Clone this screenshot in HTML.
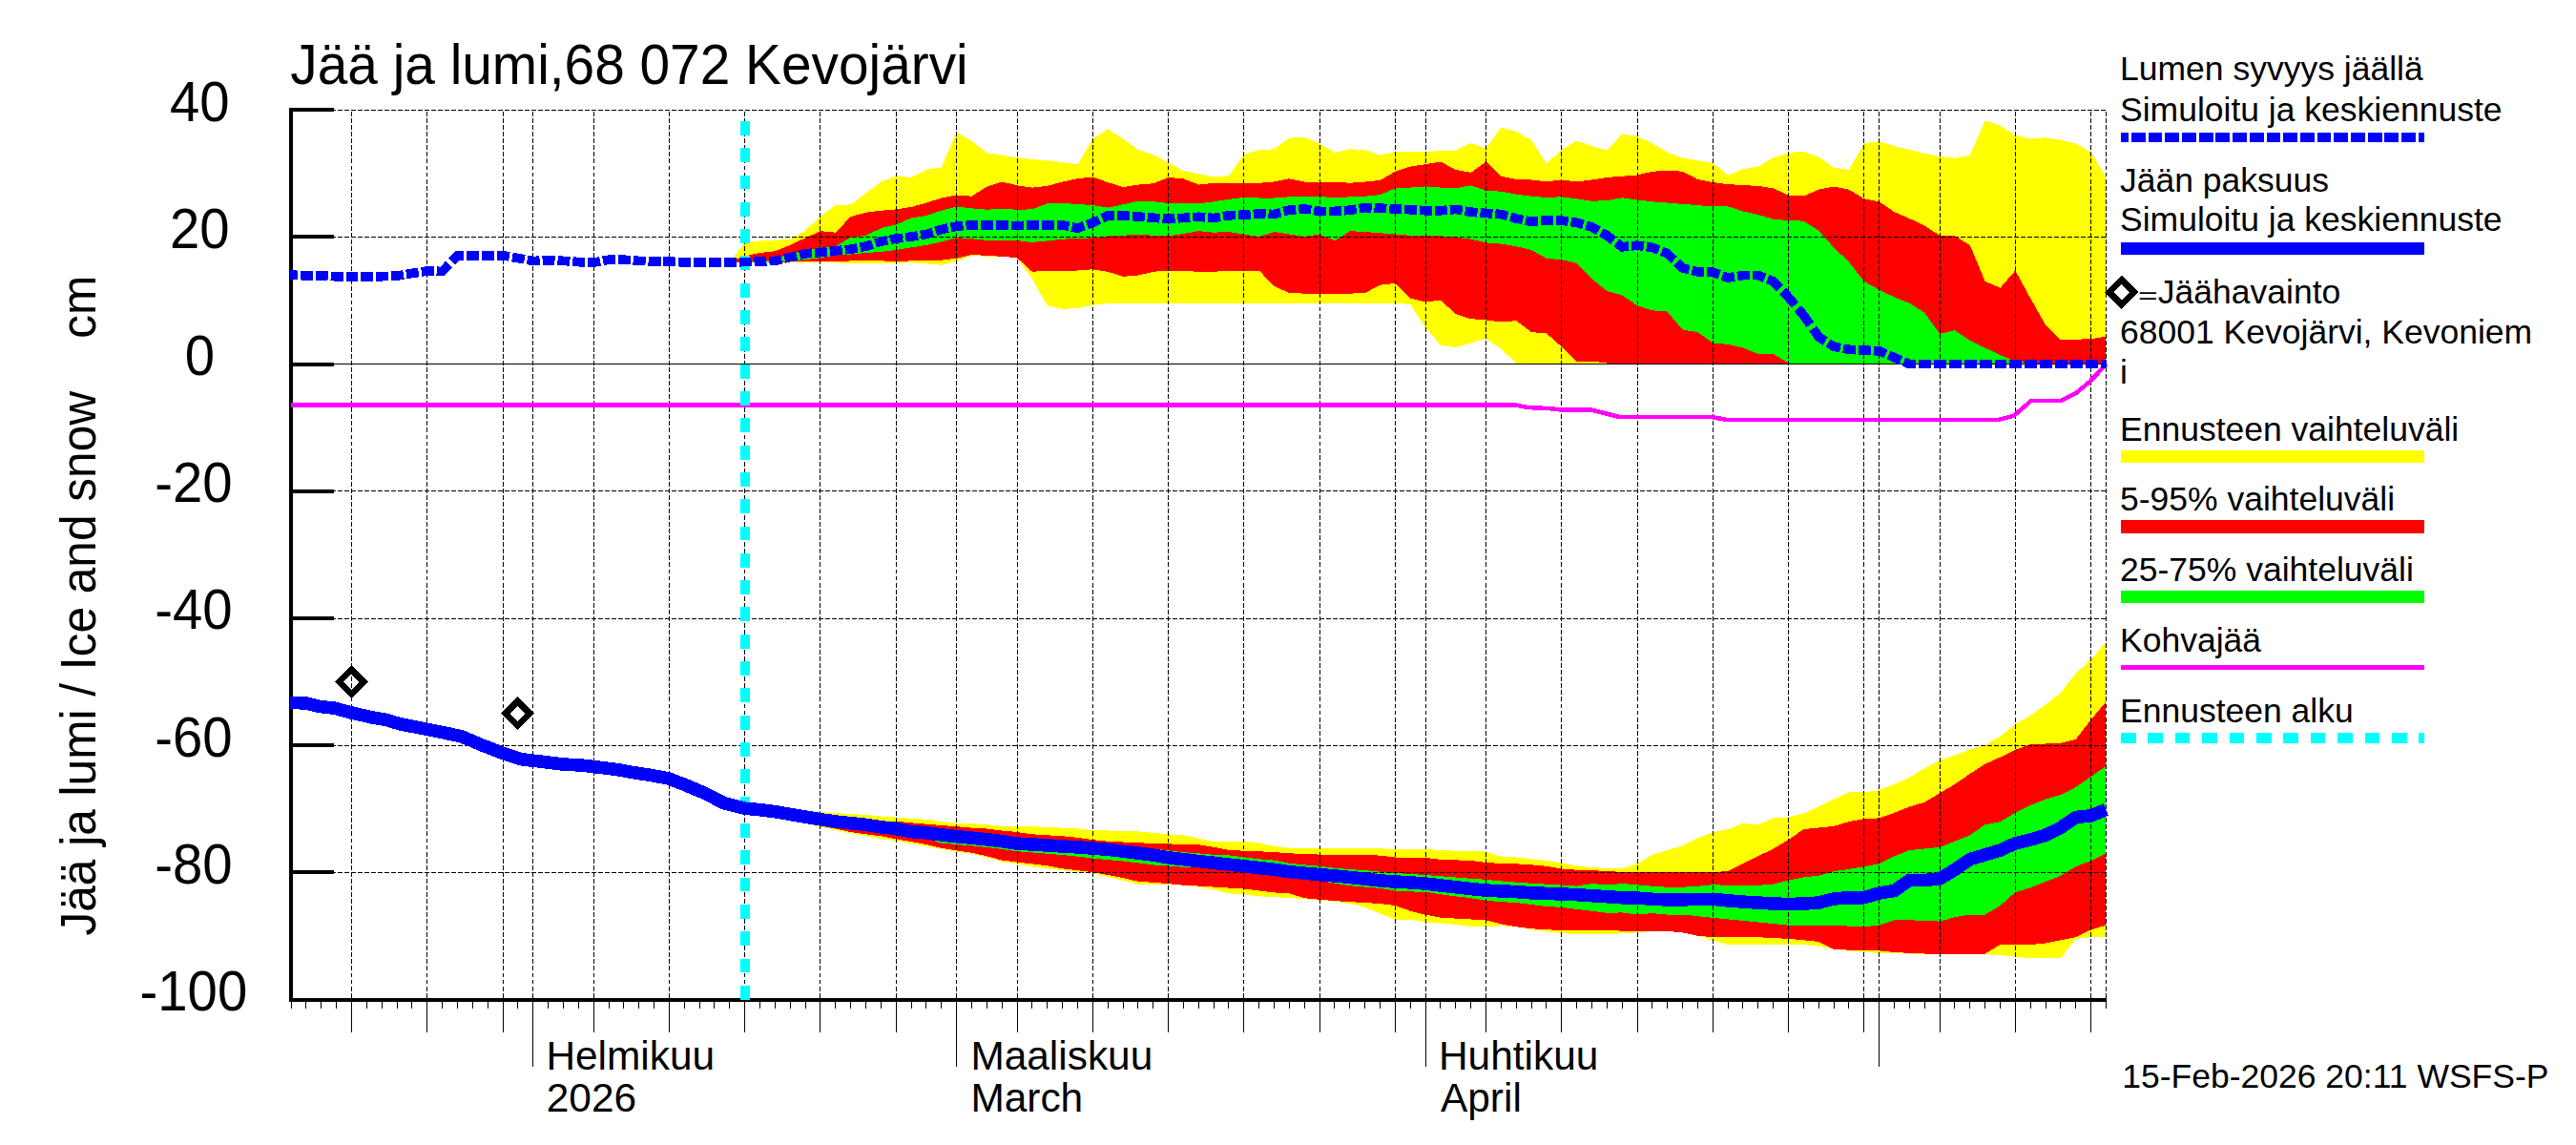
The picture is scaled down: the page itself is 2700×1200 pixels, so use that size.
<!DOCTYPE html>
<html><head><meta charset="utf-8"><title>Jää ja lumi, 68 072 Kevojärvi</title>
<style>html,body{margin:0;padding:0;background:#fff;}svg{display:block;}</style></head>
<body><svg width="2700" height="1200" viewBox="0 0 2700 1200">
<rect width="2700" height="1200" fill="#fff"/>
<polygon shape-rendering="crispEdges" fill="#ffff00" points="764.8,274.5 780.7,254.4 796.5,252.4 812.4,251.8 828.2,250.8 844.1,241.7 859.9,226.5 875.8,215.1 891.7,214.4 907.5,202.5 923.4,190.5 939.2,184.7 955.1,186.0 970.9,177.9 986.8,175.3 1002.6,138.4 1018.5,148.0 1034.3,160.2 1050.2,162.7 1066.0,165.2 1081.9,167.0 1097.7,168.3 1113.6,170.0 1129.4,172.6 1145.3,145.5 1161.2,135.3 1177.0,145.5 1192.9,156.9 1208.7,161.9 1224.6,170.8 1240.4,179.0 1256.3,182.2 1272.1,185.5 1288.0,184.2 1303.8,161.9 1319.7,156.9 1335.5,156.4 1351.4,144.7 1367.2,143.7 1383.1,150.5 1398.9,159.9 1414.8,156.4 1430.7,156.9 1446.5,162.7 1462.4,158.9 1478.2,158.9 1494.1,158.9 1509.9,158.1 1525.8,157.6 1541.6,150.0 1557.5,155.6 1573.3,133.6 1589.2,137.9 1605.0,146.7 1620.9,171.6 1636.7,156.9 1652.6,147.5 1668.4,153.1 1684.3,157.6 1700.2,140.4 1716.0,142.9 1731.9,150.5 1747.7,159.4 1763.6,165.7 1779.4,168.3 1795.3,170.8 1811.1,183.5 1827.0,177.1 1842.8,174.6 1858.7,165.2 1874.5,160.2 1890.4,158.6 1906.2,164.5 1922.1,175.9 1937.9,177.9 1953.8,150.5 1969.7,148.0 1985.5,153.1 2001.4,156.9 2017.2,160.7 2033.1,164.0 2048.9,165.7 2064.8,162.7 2080.6,126.5 2096.5,131.5 2112.3,141.7 2128.2,145.5 2144.0,144.2 2159.9,146.7 2175.7,150.5 2191.6,159.4 2207.4,186.0 2207.4,381.5 2191.6,381.5 2175.7,381.5 2159.9,381.5 2144.0,381.5 2128.2,381.5 2112.3,381.5 2096.5,381.5 2080.6,381.5 2064.8,381.5 2048.9,381.5 2033.1,381.5 2017.2,381.5 2001.4,381.5 1985.5,381.5 1969.7,381.5 1953.8,381.5 1937.9,381.5 1922.1,381.5 1906.2,381.5 1890.4,381.5 1874.5,381.5 1858.7,381.5 1842.8,381.5 1827.0,381.5 1811.1,381.5 1795.3,381.5 1779.4,381.5 1763.6,381.5 1747.7,381.5 1731.9,381.5 1716.0,381.5 1700.2,381.5 1684.3,381.5 1668.4,381.5 1652.6,381.5 1636.7,381.5 1620.9,381.5 1605.0,381.5 1589.2,380.5 1573.3,365.8 1557.5,354.9 1541.6,359.5 1525.8,364.1 1509.9,362.0 1494.1,343.0 1478.2,319.0 1462.4,317.7 1446.5,317.7 1430.7,317.7 1414.8,317.7 1398.9,317.7 1383.1,317.7 1367.2,317.7 1351.4,317.7 1335.5,317.7 1319.7,317.7 1303.8,317.7 1288.0,317.7 1272.1,317.7 1256.3,317.7 1240.4,317.7 1224.6,317.7 1208.7,317.7 1192.9,318.2 1177.0,318.2 1161.2,318.2 1145.3,319.7 1129.4,322.8 1113.6,324.0 1097.7,320.2 1081.9,292.4 1066.0,270.3 1050.2,268.8 1034.3,268.8 1018.5,267.8 1002.6,273.9 986.8,277.7 970.9,276.4 955.1,275.1 939.2,275.9 923.4,275.9 907.5,276.4 891.7,275.9 875.8,275.4 859.9,275.1 844.1,275.1 828.2,275.1 812.4,275.4 796.5,275.4 780.7,275.4"/>
<polygon shape-rendering="crispEdges" fill="#ff0000" points="764.8,274.5 780.7,268.3 796.5,265.0 812.4,263.2 828.2,256.9 844.1,249.3 859.9,242.2 875.8,243.7 891.7,227.0 907.5,222.7 923.4,220.7 939.2,219.4 955.1,216.9 970.9,212.6 986.8,207.5 1002.6,204.5 1018.5,205.7 1034.3,195.6 1050.2,190.5 1066.0,194.3 1081.9,196.6 1097.7,194.9 1113.6,190.5 1129.4,187.3 1145.3,185.5 1161.2,191.1 1177.0,196.1 1192.9,193.6 1208.7,192.3 1224.6,186.0 1240.4,187.3 1256.3,193.6 1272.1,191.8 1288.0,191.8 1303.8,191.8 1319.7,191.8 1335.5,190.5 1351.4,187.3 1367.2,190.5 1383.1,191.6 1398.9,190.5 1414.8,191.8 1430.7,190.5 1446.5,189.0 1462.4,179.7 1478.2,174.6 1494.1,172.1 1509.9,169.5 1525.8,177.9 1541.6,180.9 1557.5,169.5 1573.3,184.7 1589.2,188.0 1605.0,188.5 1620.9,190.3 1636.7,188.5 1652.6,190.5 1668.4,188.5 1684.3,186.0 1700.2,184.7 1716.0,183.5 1731.9,179.7 1747.7,178.9 1763.6,179.7 1779.4,188.0 1795.3,191.1 1811.1,193.1 1827.0,194.1 1842.8,194.9 1858.7,197.4 1874.5,204.5 1890.4,205.5 1906.2,198.7 1922.1,195.6 1937.9,198.7 1953.8,208.3 1969.7,211.3 1985.5,222.2 2001.4,229.0 2017.2,236.6 2033.1,246.8 2048.9,247.3 2064.8,256.9 2080.6,294.9 2096.5,301.7 2112.3,283.5 2128.2,312.6 2144.0,340.5 2159.9,356.2 2175.7,355.7 2191.6,355.2 2207.4,352.7 2207.4,381.5 2191.6,381.5 2175.7,381.5 2159.9,381.5 2144.0,381.5 2128.2,381.5 2112.3,381.5 2096.5,381.5 2080.6,381.5 2064.8,381.5 2048.9,381.5 2033.1,381.5 2017.2,381.5 2001.4,381.5 1985.5,381.5 1969.7,381.5 1953.8,381.5 1937.9,381.5 1922.1,381.5 1906.2,381.5 1890.4,381.5 1874.5,381.5 1858.7,381.5 1842.8,381.5 1827.0,381.5 1811.1,381.5 1795.3,381.5 1779.4,381.5 1763.6,381.5 1747.7,381.5 1731.9,381.5 1716.0,380.5 1700.2,380.5 1684.3,380.5 1668.4,378.5 1652.6,379.0 1636.7,363.3 1620.9,349.4 1605.0,348.1 1589.2,336.2 1573.3,337.5 1557.5,335.4 1541.6,334.2 1525.8,329.1 1509.9,314.7 1494.1,316.4 1478.2,312.6 1462.4,296.9 1446.5,298.7 1430.7,307.1 1414.8,307.6 1398.9,307.6 1383.1,307.6 1367.2,307.6 1351.4,307.1 1335.5,300.0 1319.7,283.5 1303.8,283.5 1288.0,283.5 1272.1,284.8 1256.3,284.8 1240.4,283.9 1224.6,283.5 1208.7,284.8 1192.9,288.6 1177.0,289.8 1161.2,284.8 1145.3,282.2 1129.4,283.5 1113.6,283.5 1097.7,283.5 1081.9,284.8 1066.0,270.3 1050.2,268.8 1034.3,267.8 1018.5,267.0 1002.6,270.8 986.8,272.6 970.9,273.4 955.1,273.4 939.2,273.9 923.4,273.4 907.5,273.4 891.7,273.4 875.8,274.4 859.9,274.4 844.1,274.4 828.2,274.4 812.4,275.1 796.5,275.1 780.7,275.1"/>
<polygon shape-rendering="crispEdges" fill="#00ff00" points="764.8,274.5 780.7,274.6 796.5,273.4 812.4,272.1 828.2,265.8 844.1,263.2 859.9,259.4 875.8,258.2 891.7,248.8 907.5,246.8 923.4,239.2 939.2,235.4 955.1,228.5 970.9,226.0 986.8,220.7 1002.6,216.6 1018.5,218.4 1034.3,219.7 1050.2,218.9 1066.0,219.7 1081.9,219.4 1097.7,213.3 1113.6,213.1 1129.4,213.9 1145.3,215.1 1161.2,217.6 1177.0,214.4 1192.9,210.6 1208.7,211.3 1224.6,213.0 1240.4,213.3 1256.3,213.3 1272.1,211.3 1288.0,208.8 1303.8,207.0 1319.7,207.5 1335.5,207.5 1351.4,206.3 1367.2,205.7 1383.1,205.7 1398.9,207.5 1414.8,206.3 1430.7,205.7 1446.5,204.2 1462.4,197.4 1478.2,196.6 1494.1,195.4 1509.9,196.6 1525.8,197.4 1541.6,194.3 1557.5,199.9 1573.3,200.7 1589.2,203.7 1605.0,205.7 1620.9,207.0 1636.7,206.3 1652.6,208.3 1668.4,210.8 1684.3,210.1 1700.2,207.3 1716.0,209.4 1731.9,211.3 1747.7,212.6 1763.6,213.9 1779.4,215.1 1795.3,216.4 1811.1,216.4 1827.0,221.4 1842.8,225.2 1858.7,229.6 1874.5,231.1 1890.4,231.6 1906.2,241.7 1922.1,259.4 1937.9,274.6 1953.8,294.9 1969.7,303.8 1985.5,311.4 2001.4,317.7 2017.2,327.8 2033.1,350.1 2048.9,346.1 2064.8,357.0 2080.6,364.6 2096.5,372.2 2112.3,378.5 2128.2,380.5 2144.0,381.0 2159.9,381.5 2175.7,381.5 2191.6,381.5 2207.4,381.5 2207.4,381.5 2191.6,381.5 2175.7,381.5 2159.9,381.5 2144.0,381.5 2128.2,381.5 2112.3,381.5 2096.5,381.5 2080.6,381.5 2064.8,381.5 2048.9,381.5 2033.1,381.5 2017.2,381.5 2001.4,381.5 1985.5,381.5 1969.7,381.5 1953.8,381.5 1937.9,381.5 1922.1,381.5 1906.2,381.5 1890.4,381.5 1874.5,380.5 1858.7,370.9 1842.8,370.9 1827.0,364.6 1811.1,360.8 1795.3,359.5 1779.4,348.1 1763.6,345.6 1747.7,326.6 1731.9,325.3 1716.0,320.2 1700.2,309.5 1684.3,305.0 1668.4,292.4 1652.6,275.9 1636.7,272.1 1620.9,270.8 1605.0,262.0 1589.2,258.2 1573.3,255.6 1557.5,254.4 1541.6,250.6 1525.8,248.8 1509.9,247.3 1494.1,246.8 1478.2,246.8 1462.4,245.5 1446.5,244.2 1430.7,243.0 1414.8,242.2 1398.9,252.4 1383.1,245.5 1367.2,248.0 1351.4,245.5 1335.5,243.0 1319.7,248.0 1303.8,245.5 1288.0,243.0 1272.1,243.7 1256.3,242.2 1240.4,244.9 1224.6,247.4 1208.7,246.8 1192.9,245.5 1177.0,246.8 1161.2,247.5 1145.3,249.3 1129.4,250.1 1113.6,250.6 1097.7,252.4 1081.9,253.9 1066.0,252.1 1050.2,251.8 1034.3,251.8 1018.5,250.3 1002.6,249.1 986.8,253.4 970.9,256.9 955.1,259.4 939.2,262.0 923.4,264.0 907.5,265.0 891.7,266.5 875.8,267.5 859.9,270.1 844.1,272.1 828.2,273.4 812.4,274.6 796.5,275.1 780.7,275.9"/>
<polygon shape-rendering="crispEdges" fill="#ffff00" points="764.8,845.2 780.7,841.0 796.5,842.3 812.4,844.3 828.2,847.2 844.1,849.1 859.9,851.1 875.8,852.0 891.7,853.0 907.5,854.0 923.4,855.5 939.2,856.5 955.1,857.8 970.9,858.8 986.8,861.1 1002.6,862.7 1018.5,863.1 1034.3,864.3 1050.2,866.0 1066.0,866.2 1081.9,866.2 1097.7,867.0 1113.6,867.6 1129.4,868.5 1145.3,870.1 1161.2,870.5 1177.0,870.9 1192.9,871.4 1208.7,872.8 1224.6,874.3 1240.4,875.3 1256.3,878.7 1272.1,882.0 1288.0,882.0 1303.8,882.0 1319.7,883.4 1335.5,886.9 1351.4,888.8 1367.2,889.2 1383.1,889.2 1398.9,889.2 1414.8,889.2 1430.7,889.2 1446.5,889.2 1462.4,890.2 1478.2,890.2 1494.1,890.2 1509.9,890.8 1525.8,891.7 1541.6,891.7 1557.5,892.7 1573.3,897.6 1589.2,898.5 1605.0,900.1 1620.9,902.0 1636.7,904.3 1652.6,907.3 1668.4,909.2 1684.3,909.8 1700.2,910.0 1716.0,905.3 1731.9,895.8 1747.7,891.1 1763.6,886.3 1779.4,878.5 1795.3,872.2 1811.1,869.1 1827.0,862.8 1842.8,864.3 1858.7,857.4 1874.5,856.5 1890.4,852.4 1906.2,845.5 1922.1,837.6 1937.9,830.4 1953.8,830.4 1969.7,828.2 1985.5,821.9 2001.4,814.7 2017.2,805.2 2033.1,796.7 2048.9,791.4 2064.8,785.7 2080.6,781.0 2096.5,771.6 2112.3,759.0 2128.2,749.6 2144.0,738.6 2159.9,726.0 2175.7,705.6 2191.6,691.4 2207.4,672.6 2207.4,982.2 2191.6,982.2 2175.7,983.8 2159.9,1004.2 2144.0,1004.2 2128.2,1004.2 2112.3,1002.7 2096.5,1001.1 2080.6,1000.1 2064.8,1000.1 2048.9,1000.1 2033.1,1000.1 2017.2,1000.1 2001.4,999.5 1985.5,998.9 1969.7,998.9 1953.8,997.9 1937.9,996.4 1922.1,994.8 1906.2,991.7 1890.4,990.1 1874.5,990.1 1858.7,990.1 1842.8,990.1 1827.0,990.1 1811.1,990.1 1795.3,985.4 1779.4,980.7 1763.6,977.5 1747.7,975.9 1731.9,975.9 1716.0,977.3 1700.2,978.3 1684.3,979.1 1668.4,979.1 1652.6,979.1 1636.7,978.1 1620.9,976.2 1605.0,974.2 1589.2,971.3 1573.3,970.3 1557.5,971.3 1541.6,971.3 1525.8,968.8 1509.9,967.4 1494.1,966.5 1478.2,963.5 1462.4,963.5 1446.5,957.7 1430.7,950.9 1414.8,947.0 1398.9,944.7 1383.1,943.6 1367.2,942.2 1351.4,940.8 1335.5,940.3 1319.7,939.3 1303.8,937.3 1288.0,936.4 1272.1,932.5 1256.3,929.6 1240.4,927.7 1224.6,926.9 1208.7,927.1 1192.9,926.8 1177.0,922.9 1161.2,919.0 1145.3,915.5 1129.4,913.6 1113.6,912.2 1097.7,910.3 1081.9,908.3 1066.0,905.4 1050.2,903.1 1034.3,898.6 1018.5,894.7 1002.6,892.8 986.8,889.9 970.9,887.0 955.1,884.1 939.2,881.1 923.4,879.2 907.5,876.3 891.7,873.4 875.8,870.1 859.9,866.6 844.1,862.7 828.2,859.8 812.4,856.9 796.5,854.9 780.7,853.4"/>
<polygon shape-rendering="crispEdges" fill="#ff0000" points="764.8,845.2 780.7,841.0 796.5,842.3 812.4,844.3 828.2,847.2 844.1,849.5 859.9,852.0 875.8,854.0 891.7,856.9 907.5,858.8 923.4,860.8 939.2,860.8 955.1,862.3 970.9,863.7 986.8,865.0 1002.6,866.2 1018.5,867.6 1034.3,868.5 1050.2,870.5 1066.0,872.0 1081.9,874.3 1097.7,875.3 1113.6,876.3 1129.4,877.8 1145.3,880.2 1161.2,881.7 1177.0,882.5 1192.9,883.1 1208.7,884.1 1224.6,884.2 1240.4,885.5 1256.3,885.3 1272.1,887.8 1288.0,890.8 1303.8,891.7 1319.7,892.3 1335.5,893.1 1351.4,894.3 1367.2,895.0 1383.1,895.6 1398.9,895.6 1414.8,896.0 1430.7,896.0 1446.5,896.6 1462.4,898.5 1478.2,898.9 1494.1,898.9 1509.9,900.9 1525.8,901.4 1541.6,902.0 1557.5,904.0 1573.3,904.9 1589.2,905.3 1605.0,906.3 1620.9,907.8 1636.7,910.6 1652.6,911.7 1668.4,912.1 1684.3,913.1 1700.2,913.8 1716.0,913.5 1731.9,914.0 1747.7,914.0 1763.6,914.0 1779.4,914.0 1795.3,914.0 1811.1,913.1 1827.0,905.2 1842.8,897.3 1858.7,889.5 1874.5,880.1 1890.4,869.1 1906.2,867.5 1922.1,865.9 1937.9,861.2 1953.8,858.1 1969.7,857.4 1985.5,851.8 2001.4,845.5 2017.2,840.8 2033.1,831.3 2048.9,821.9 2064.8,810.9 2080.6,800.8 2096.5,793.6 2112.3,785.7 2128.2,780.1 2144.0,779.5 2159.9,778.8 2175.7,774.7 2191.6,754.3 2207.4,735.4 2207.4,969.7 2191.6,974.4 2175.7,982.2 2159.9,985.4 2144.0,988.5 2128.2,990.1 2112.3,990.1 2096.5,990.1 2080.6,999.5 2064.8,999.5 2048.9,999.5 2033.1,999.5 2017.2,999.5 2001.4,998.9 1985.5,997.9 1969.7,996.4 1953.8,995.7 1937.9,995.7 1922.1,994.8 1906.2,986.9 1890.4,985.4 1874.5,983.8 1858.7,983.2 1842.8,982.2 1827.0,982.2 1811.1,982.2 1795.3,982.2 1779.4,980.7 1763.6,977.5 1747.7,975.9 1731.9,975.9 1716.0,976.1 1700.2,975.6 1684.3,975.2 1668.4,975.2 1652.6,975.2 1636.7,975.2 1620.9,974.2 1605.0,973.3 1589.2,971.3 1573.3,968.4 1557.5,964.5 1541.6,963.5 1525.8,962.6 1509.9,961.6 1494.1,958.7 1478.2,954.8 1462.4,949.0 1446.5,947.0 1430.7,946.1 1414.8,945.1 1398.9,944.1 1383.1,942.8 1367.2,941.2 1351.4,936.4 1335.5,935.4 1319.7,933.5 1303.8,931.5 1288.0,930.6 1272.1,929.6 1256.3,928.6 1240.4,927.7 1224.6,926.2 1208.7,924.8 1192.9,923.8 1177.0,920.0 1161.2,917.0 1145.3,914.1 1129.4,912.2 1113.6,910.3 1097.7,907.3 1081.9,905.4 1066.0,903.5 1050.2,901.5 1034.3,897.3 1018.5,893.8 1002.6,891.4 986.8,888.9 970.9,885.0 955.1,882.1 939.2,879.2 923.4,876.3 907.5,874.3 891.7,872.0 875.8,868.5 859.9,865.6 844.1,862.7 828.2,859.8 812.4,856.9 796.5,854.9 780.7,853.4"/>
<polygon shape-rendering="crispEdges" fill="#00ff00" points="764.8,845.2 780.7,840.6 796.5,842.1 812.4,844.1 828.2,846.8 844.1,849.5 859.9,852.2 875.8,854.5 891.7,856.1 907.5,857.8 923.4,860.2 939.2,861.9 955.1,865.0 970.9,866.2 986.8,868.3 1002.6,870.1 1018.5,871.6 1034.3,873.2 1050.2,875.1 1066.0,877.5 1081.9,878.4 1097.7,879.4 1113.6,880.4 1129.4,881.3 1145.3,882.5 1161.2,883.7 1177.0,885.6 1192.9,887.5 1208.7,889.5 1224.6,891.3 1240.4,893.2 1256.3,894.4 1272.1,895.8 1288.0,896.4 1303.8,898.3 1319.7,900.3 1335.5,901.6 1351.4,904.7 1367.2,906.3 1383.1,907.8 1398.9,909.8 1414.8,911.1 1430.7,912.1 1446.5,913.7 1462.4,915.0 1478.2,916.0 1494.1,917.0 1509.9,918.3 1525.8,919.5 1541.6,920.8 1557.5,921.8 1573.3,923.4 1589.2,924.7 1605.0,925.7 1620.9,926.7 1636.7,927.6 1652.6,928.6 1668.4,926.1 1684.3,927.3 1700.2,926.1 1716.0,927.3 1731.9,928.8 1747.7,929.7 1763.6,929.7 1779.4,928.8 1795.3,927.2 1811.1,927.8 1827.0,927.8 1842.8,927.8 1858.7,926.6 1874.5,922.5 1890.4,919.4 1906.2,917.8 1922.1,913.1 1937.9,910.9 1953.8,908.3 1969.7,905.2 1985.5,897.3 2001.4,891.1 2017.2,889.5 2033.1,887.9 2048.9,881.6 2064.8,875.3 2080.6,864.3 2096.5,861.2 2112.3,851.8 2128.2,843.9 2144.0,837.6 2159.9,832.9 2175.7,825.0 2191.6,814.0 2207.4,803.0 2207.4,894.2 2191.6,902.1 2175.7,908.3 2159.9,917.8 2144.0,924.1 2128.2,930.4 2112.3,935.1 2096.5,949.2 2080.6,958.6 2064.8,958.6 2048.9,961.2 2033.1,965.6 2017.2,964.9 2001.4,964.3 1985.5,964.3 1969.7,969.7 1953.8,971.2 1937.9,970.6 1922.1,969.7 1906.2,969.7 1890.4,969.7 1874.5,969.7 1858.7,968.1 1842.8,966.5 1827.0,964.9 1811.1,963.4 1795.3,961.8 1779.4,960.2 1763.6,958.6 1747.7,958.6 1731.9,957.1 1716.0,958.4 1700.2,956.4 1684.3,956.8 1668.4,954.8 1652.6,952.9 1636.7,950.9 1620.9,950.0 1605.0,948.0 1589.2,946.1 1573.3,945.1 1557.5,943.8 1541.6,941.2 1525.8,939.3 1509.9,937.3 1494.1,934.8 1478.2,934.4 1462.4,933.5 1446.5,930.9 1430.7,929.6 1414.8,928.2 1398.9,925.7 1383.1,922.8 1367.2,920.8 1351.4,919.5 1335.5,917.5 1319.7,916.0 1303.8,914.1 1288.0,912.1 1272.1,911.1 1256.3,909.2 1240.4,908.8 1224.6,907.5 1208.7,906.4 1192.9,904.4 1177.0,902.5 1161.2,901.1 1145.3,899.6 1129.4,897.6 1113.6,896.1 1097.7,894.7 1081.9,893.4 1066.0,892.2 1050.2,889.9 1034.3,887.9 1018.5,886.4 1002.6,885.0 986.8,883.7 970.9,878.6 955.1,877.5 939.2,874.3 923.4,872.6 907.5,870.3 891.7,868.5 875.8,867.0 859.9,864.6 844.1,861.9 828.2,859.2 812.4,856.5 796.5,854.5 780.7,853.0"/>
<g stroke="#000" stroke-width="1" stroke-dasharray="5 2" shape-rendering="crispEdges"><line x1="368.5" y1="115" x2="368.5" y2="1047" stroke-dasharray="4.9 2.15" stroke-dashoffset="4.95"/><line x1="447.5" y1="115" x2="447.5" y2="1047" stroke-dasharray="4.9 2.15" stroke-dashoffset="4.95"/><line x1="527.5" y1="115" x2="527.5" y2="1047" stroke-dasharray="4.9 2.15" stroke-dashoffset="4.95"/><line x1="558.5" y1="115" x2="558.5" y2="1047" stroke-dasharray="4.9 2.15" stroke-dashoffset="4.95"/><line x1="622.5" y1="115" x2="622.5" y2="1047" stroke-dasharray="4.9 2.15" stroke-dashoffset="4.95"/><line x1="701.5" y1="115" x2="701.5" y2="1047" stroke-dasharray="4.9 2.15" stroke-dashoffset="4.95"/><line x1="780.5" y1="115" x2="780.5" y2="1047" stroke-dasharray="4.9 2.15" stroke-dashoffset="4.95"/><line x1="859.5" y1="115" x2="859.5" y2="1047" stroke-dasharray="4.9 2.15" stroke-dashoffset="4.95"/><line x1="939.5" y1="115" x2="939.5" y2="1047" stroke-dasharray="4.9 2.15" stroke-dashoffset="4.95"/><line x1="1002.5" y1="115" x2="1002.5" y2="1047" stroke-dasharray="4.9 2.15" stroke-dashoffset="4.95"/><line x1="1066.5" y1="115" x2="1066.5" y2="1047" stroke-dasharray="4.9 2.15" stroke-dashoffset="4.95"/><line x1="1145.5" y1="115" x2="1145.5" y2="1047" stroke-dasharray="4.9 2.15" stroke-dashoffset="4.95"/><line x1="1224.5" y1="115" x2="1224.5" y2="1047" stroke-dasharray="4.9 2.15" stroke-dashoffset="4.95"/><line x1="1303.5" y1="115" x2="1303.5" y2="1047" stroke-dasharray="4.9 2.15" stroke-dashoffset="4.95"/><line x1="1383.5" y1="115" x2="1383.5" y2="1047" stroke-dasharray="4.9 2.15" stroke-dashoffset="4.95"/><line x1="1462.5" y1="115" x2="1462.5" y2="1047" stroke-dasharray="4.9 2.15" stroke-dashoffset="4.95"/><line x1="1494.5" y1="115" x2="1494.5" y2="1047" stroke-dasharray="4.9 2.15" stroke-dashoffset="4.95"/><line x1="1557.5" y1="115" x2="1557.5" y2="1047" stroke-dasharray="4.9 2.15" stroke-dashoffset="4.95"/><line x1="1636.5" y1="115" x2="1636.5" y2="1047" stroke-dasharray="4.9 2.15" stroke-dashoffset="4.95"/><line x1="1716.5" y1="115" x2="1716.5" y2="1047" stroke-dasharray="4.9 2.15" stroke-dashoffset="4.95"/><line x1="1795.5" y1="115" x2="1795.5" y2="1047" stroke-dasharray="4.9 2.15" stroke-dashoffset="4.95"/><line x1="1874.5" y1="115" x2="1874.5" y2="1047" stroke-dasharray="4.9 2.15" stroke-dashoffset="4.95"/><line x1="1953.5" y1="115" x2="1953.5" y2="1047" stroke-dasharray="4.9 2.15" stroke-dashoffset="4.95"/><line x1="1969.5" y1="115" x2="1969.5" y2="1047" stroke-dasharray="4.9 2.15" stroke-dashoffset="4.95"/><line x1="2033.5" y1="115" x2="2033.5" y2="1047" stroke-dasharray="4.9 2.15" stroke-dashoffset="4.95"/><line x1="2112.5" y1="115" x2="2112.5" y2="1047" stroke-dasharray="4.9 2.15" stroke-dashoffset="4.95"/><line x1="2191.5" y1="115" x2="2191.5" y2="1047" stroke-dasharray="4.9 2.15" stroke-dashoffset="4.95"/><line x1="2207.5" y1="115" x2="2207.5" y2="1047" stroke-dasharray="4.9 2.15" stroke-dashoffset="4.95"/><line x1="305" y1="115.5" x2="2208" y2="115.5" /><line x1="305" y1="248.5" x2="2208" y2="248.5" /><line x1="305" y1="514.5" x2="2208" y2="514.5" /><line x1="305" y1="648.5" x2="2208" y2="648.5" /><line x1="305" y1="781.5" x2="2208" y2="781.5" /><line x1="305" y1="914.5" x2="2208" y2="914.5" /></g>
<line x1="305" y1="381.5" x2="2208" y2="381.5" stroke="#000" stroke-width="1" shape-rendering="crispEdges"/>
<g shape-rendering="crispEdges" stroke="#000"><line x1="305" y1="113" x2="305" y2="1050" stroke-width="4"/><line x1="303" y1="1048" x2="2208" y2="1048" stroke-width="4"/><line x1="303" y1="115" x2="350" y2="115" stroke-width="4"/><line x1="303" y1="248" x2="350" y2="248" stroke-width="4"/><line x1="303" y1="382" x2="350" y2="382" stroke-width="4"/><line x1="303" y1="515" x2="350" y2="515" stroke-width="4"/><line x1="303" y1="648" x2="350" y2="648" stroke-width="4"/><line x1="303" y1="781" x2="350" y2="781" stroke-width="4"/><line x1="303" y1="914" x2="350" y2="914" stroke-width="4"/><line x1="305.5" y1="1048" x2="305.5" y2="1057" stroke-width="1"/><line x1="320.5" y1="1048" x2="320.5" y2="1057" stroke-width="1"/><line x1="336.5" y1="1048" x2="336.5" y2="1057" stroke-width="1"/><line x1="352.5" y1="1048" x2="352.5" y2="1057" stroke-width="1"/><line x1="368.5" y1="1048" x2="368.5" y2="1082" stroke-width="1"/><line x1="384.5" y1="1048" x2="384.5" y2="1057" stroke-width="1"/><line x1="400.5" y1="1048" x2="400.5" y2="1057" stroke-width="1"/><line x1="416.5" y1="1048" x2="416.5" y2="1057" stroke-width="1"/><line x1="431.5" y1="1048" x2="431.5" y2="1057" stroke-width="1"/><line x1="447.5" y1="1048" x2="447.5" y2="1082" stroke-width="1"/><line x1="463.5" y1="1048" x2="463.5" y2="1057" stroke-width="1"/><line x1="479.5" y1="1048" x2="479.5" y2="1057" stroke-width="1"/><line x1="495.5" y1="1048" x2="495.5" y2="1057" stroke-width="1"/><line x1="511.5" y1="1048" x2="511.5" y2="1057" stroke-width="1"/><line x1="527.5" y1="1048" x2="527.5" y2="1082" stroke-width="1"/><line x1="542.5" y1="1048" x2="542.5" y2="1057" stroke-width="1"/><line x1="558.5" y1="1048" x2="558.5" y2="1118" stroke-width="1"/><line x1="574.5" y1="1048" x2="574.5" y2="1057" stroke-width="1"/><line x1="590.5" y1="1048" x2="590.5" y2="1057" stroke-width="1"/><line x1="606.5" y1="1048" x2="606.5" y2="1057" stroke-width="1"/><line x1="622.5" y1="1048" x2="622.5" y2="1082" stroke-width="1"/><line x1="638.5" y1="1048" x2="638.5" y2="1057" stroke-width="1"/><line x1="653.5" y1="1048" x2="653.5" y2="1057" stroke-width="1"/><line x1="669.5" y1="1048" x2="669.5" y2="1057" stroke-width="1"/><line x1="685.5" y1="1048" x2="685.5" y2="1057" stroke-width="1"/><line x1="701.5" y1="1048" x2="701.5" y2="1082" stroke-width="1"/><line x1="717.5" y1="1048" x2="717.5" y2="1057" stroke-width="1"/><line x1="733.5" y1="1048" x2="733.5" y2="1057" stroke-width="1"/><line x1="748.5" y1="1048" x2="748.5" y2="1057" stroke-width="1"/><line x1="764.5" y1="1048" x2="764.5" y2="1057" stroke-width="1"/><line x1="780.5" y1="1048" x2="780.5" y2="1082" stroke-width="1"/><line x1="796.5" y1="1048" x2="796.5" y2="1057" stroke-width="1"/><line x1="812.5" y1="1048" x2="812.5" y2="1057" stroke-width="1"/><line x1="828.5" y1="1048" x2="828.5" y2="1057" stroke-width="1"/><line x1="844.5" y1="1048" x2="844.5" y2="1057" stroke-width="1"/><line x1="859.5" y1="1048" x2="859.5" y2="1082" stroke-width="1"/><line x1="875.5" y1="1048" x2="875.5" y2="1057" stroke-width="1"/><line x1="891.5" y1="1048" x2="891.5" y2="1057" stroke-width="1"/><line x1="907.5" y1="1048" x2="907.5" y2="1057" stroke-width="1"/><line x1="923.5" y1="1048" x2="923.5" y2="1057" stroke-width="1"/><line x1="939.5" y1="1048" x2="939.5" y2="1082" stroke-width="1"/><line x1="955.5" y1="1048" x2="955.5" y2="1057" stroke-width="1"/><line x1="970.5" y1="1048" x2="970.5" y2="1057" stroke-width="1"/><line x1="986.5" y1="1048" x2="986.5" y2="1057" stroke-width="1"/><line x1="1002.5" y1="1048" x2="1002.5" y2="1118" stroke-width="1"/><line x1="1018.5" y1="1048" x2="1018.5" y2="1057" stroke-width="1"/><line x1="1034.5" y1="1048" x2="1034.5" y2="1057" stroke-width="1"/><line x1="1050.5" y1="1048" x2="1050.5" y2="1057" stroke-width="1"/><line x1="1066.5" y1="1048" x2="1066.5" y2="1082" stroke-width="1"/><line x1="1081.5" y1="1048" x2="1081.5" y2="1057" stroke-width="1"/><line x1="1097.5" y1="1048" x2="1097.5" y2="1057" stroke-width="1"/><line x1="1113.5" y1="1048" x2="1113.5" y2="1057" stroke-width="1"/><line x1="1129.5" y1="1048" x2="1129.5" y2="1057" stroke-width="1"/><line x1="1145.5" y1="1048" x2="1145.5" y2="1082" stroke-width="1"/><line x1="1161.5" y1="1048" x2="1161.5" y2="1057" stroke-width="1"/><line x1="1177.5" y1="1048" x2="1177.5" y2="1057" stroke-width="1"/><line x1="1192.5" y1="1048" x2="1192.5" y2="1057" stroke-width="1"/><line x1="1208.5" y1="1048" x2="1208.5" y2="1057" stroke-width="1"/><line x1="1224.5" y1="1048" x2="1224.5" y2="1082" stroke-width="1"/><line x1="1240.5" y1="1048" x2="1240.5" y2="1057" stroke-width="1"/><line x1="1256.5" y1="1048" x2="1256.5" y2="1057" stroke-width="1"/><line x1="1272.5" y1="1048" x2="1272.5" y2="1057" stroke-width="1"/><line x1="1287.5" y1="1048" x2="1287.5" y2="1057" stroke-width="1"/><line x1="1303.5" y1="1048" x2="1303.5" y2="1082" stroke-width="1"/><line x1="1319.5" y1="1048" x2="1319.5" y2="1057" stroke-width="1"/><line x1="1335.5" y1="1048" x2="1335.5" y2="1057" stroke-width="1"/><line x1="1351.5" y1="1048" x2="1351.5" y2="1057" stroke-width="1"/><line x1="1367.5" y1="1048" x2="1367.5" y2="1057" stroke-width="1"/><line x1="1383.5" y1="1048" x2="1383.5" y2="1082" stroke-width="1"/><line x1="1398.5" y1="1048" x2="1398.5" y2="1057" stroke-width="1"/><line x1="1414.5" y1="1048" x2="1414.5" y2="1057" stroke-width="1"/><line x1="1430.5" y1="1048" x2="1430.5" y2="1057" stroke-width="1"/><line x1="1446.5" y1="1048" x2="1446.5" y2="1057" stroke-width="1"/><line x1="1462.5" y1="1048" x2="1462.5" y2="1082" stroke-width="1"/><line x1="1478.5" y1="1048" x2="1478.5" y2="1057" stroke-width="1"/><line x1="1494.5" y1="1048" x2="1494.5" y2="1118" stroke-width="1"/><line x1="1509.5" y1="1048" x2="1509.5" y2="1057" stroke-width="1"/><line x1="1525.5" y1="1048" x2="1525.5" y2="1057" stroke-width="1"/><line x1="1541.5" y1="1048" x2="1541.5" y2="1057" stroke-width="1"/><line x1="1557.5" y1="1048" x2="1557.5" y2="1082" stroke-width="1"/><line x1="1573.5" y1="1048" x2="1573.5" y2="1057" stroke-width="1"/><line x1="1589.5" y1="1048" x2="1589.5" y2="1057" stroke-width="1"/><line x1="1605.5" y1="1048" x2="1605.5" y2="1057" stroke-width="1"/><line x1="1620.5" y1="1048" x2="1620.5" y2="1057" stroke-width="1"/><line x1="1636.5" y1="1048" x2="1636.5" y2="1082" stroke-width="1"/><line x1="1652.5" y1="1048" x2="1652.5" y2="1057" stroke-width="1"/><line x1="1668.5" y1="1048" x2="1668.5" y2="1057" stroke-width="1"/><line x1="1684.5" y1="1048" x2="1684.5" y2="1057" stroke-width="1"/><line x1="1700.5" y1="1048" x2="1700.5" y2="1057" stroke-width="1"/><line x1="1716.5" y1="1048" x2="1716.5" y2="1082" stroke-width="1"/><line x1="1731.5" y1="1048" x2="1731.5" y2="1057" stroke-width="1"/><line x1="1747.5" y1="1048" x2="1747.5" y2="1057" stroke-width="1"/><line x1="1763.5" y1="1048" x2="1763.5" y2="1057" stroke-width="1"/><line x1="1779.5" y1="1048" x2="1779.5" y2="1057" stroke-width="1"/><line x1="1795.5" y1="1048" x2="1795.5" y2="1082" stroke-width="1"/><line x1="1811.5" y1="1048" x2="1811.5" y2="1057" stroke-width="1"/><line x1="1826.5" y1="1048" x2="1826.5" y2="1057" stroke-width="1"/><line x1="1842.5" y1="1048" x2="1842.5" y2="1057" stroke-width="1"/><line x1="1858.5" y1="1048" x2="1858.5" y2="1057" stroke-width="1"/><line x1="1874.5" y1="1048" x2="1874.5" y2="1082" stroke-width="1"/><line x1="1890.5" y1="1048" x2="1890.5" y2="1057" stroke-width="1"/><line x1="1906.5" y1="1048" x2="1906.5" y2="1057" stroke-width="1"/><line x1="1922.5" y1="1048" x2="1922.5" y2="1057" stroke-width="1"/><line x1="1937.5" y1="1048" x2="1937.5" y2="1057" stroke-width="1"/><line x1="1953.5" y1="1048" x2="1953.5" y2="1082" stroke-width="1"/><line x1="1969.5" y1="1048" x2="1969.5" y2="1118" stroke-width="1"/><line x1="1985.5" y1="1048" x2="1985.5" y2="1057" stroke-width="1"/><line x1="2001.5" y1="1048" x2="2001.5" y2="1057" stroke-width="1"/><line x1="2017.5" y1="1048" x2="2017.5" y2="1057" stroke-width="1"/><line x1="2033.5" y1="1048" x2="2033.5" y2="1082" stroke-width="1"/><line x1="2048.5" y1="1048" x2="2048.5" y2="1057" stroke-width="1"/><line x1="2064.5" y1="1048" x2="2064.5" y2="1057" stroke-width="1"/><line x1="2080.5" y1="1048" x2="2080.5" y2="1057" stroke-width="1"/><line x1="2096.5" y1="1048" x2="2096.5" y2="1057" stroke-width="1"/><line x1="2112.5" y1="1048" x2="2112.5" y2="1082" stroke-width="1"/><line x1="2128.5" y1="1048" x2="2128.5" y2="1057" stroke-width="1"/><line x1="2144.5" y1="1048" x2="2144.5" y2="1057" stroke-width="1"/><line x1="2159.5" y1="1048" x2="2159.5" y2="1057" stroke-width="1"/><line x1="2175.5" y1="1048" x2="2175.5" y2="1057" stroke-width="1"/><line x1="2191.5" y1="1048" x2="2191.5" y2="1082" stroke-width="1"/><line x1="2207.5" y1="1048" x2="2207.5" y2="1057" stroke-width="1"/></g>
<polyline shape-rendering="crispEdges" fill="none" stroke="#ff00ff" stroke-width="4.5" stroke-linejoin="round" points="305,424.7 1589.4,424.7 1602,427.1 1623,428 1637,429.6 1667.7,429.6 1698.4,437.2 1794.9,437.2 1810.2,440 2093.9,440 2110.7,435.8 2128.8,420.1 2159.6,420.1 2176.4,411.7 2190.3,400 2207.9,381.5"/>
<line shape-rendering="crispEdges" x1="781" y1="126.9" x2="781" y2="1048" stroke="#00ffff" stroke-width="10" stroke-dasharray="14.9 13.41"/>
<path shape-rendering="crispEdges" fill="none" stroke="#0000ff" stroke-width="9.7" stroke-linecap="butt" stroke-linejoin="miter" d="M304.0,288.0 L305.1,288.0 L312.0,288.4M315.0,288.6 L320.9,289.0 L327.9,289.0M330.8,289.0 L336.8,289.0 L343.7,289.3M346.7,289.5 L352.6,289.8 L359.6,289.8M362.5,289.8 L368.5,289.8 L375.4,289.8M378.4,289.8 L384.4,289.8 L391.3,289.8M394.2,289.7 L400.2,289.7 L407.1,289.4M410.1,289.3 L416.1,289.0 L423.0,287.9M425.9,287.4 L431.9,286.5 L438.8,285.4M441.8,284.9 L447.8,284.0 L454.7,284.2M457.6,284.3 L463.6,284.5 L470.5,277.3M473.5,274.2 L479.5,268.0 L486.4,267.9M489.3,267.9 L495.3,267.8 L502.2,267.8M505.2,267.8 L511.2,267.8 L518.1,267.8M521.0,267.8 L527.0,267.8 L533.9,269.0M536.9,269.5 L542.9,270.5 L549.8,271.8M552.7,272.4 L558.7,273.5 L565.6,273.2M568.6,273.0 L574.6,272.7 L581.5,273.0M584.5,273.1 L590.4,273.4 L597.4,273.9M600.3,274.1 L606.3,274.6 L613.2,274.9M616.2,275.0 L622.1,275.2 L629.1,273.9M632.0,273.3 L638.0,272.2 L644.9,272.2M647.9,272.2 L653.9,272.2 L660.8,272.7M663.7,272.9 L669.7,273.4 L676.6,273.7M679.6,273.9 L685.6,274.2 L692.5,274.2M695.4,274.1 L701.4,274.1 L708.3,274.4M711.3,274.6 L717.3,274.9 L724.2,274.9M727.1,274.9 L733.1,274.9 L740.0,274.9M743.0,274.9 L749.0,274.9 L755.9,274.9M758.8,274.9 L764.8,274.9 L771.7,274.8M774.7,274.7 L780.7,274.6 L787.6,274.4M790.5,274.3 L796.5,274.1 L803.4,273.8M806.4,273.7 L812.4,273.4 L819.3,271.7M822.2,271.0 L828.2,269.6 L835.1,267.9M838.1,267.2 L844.1,265.8 L851.0,265.2M854.0,265.0 L859.9,264.5 L866.9,263.7M869.8,263.4 L875.8,262.7 L882.7,262.1M885.7,261.8 L891.7,261.2 L898.6,259.9M901.5,259.3 L907.5,258.2 L914.4,256.0M917.4,255.0 L923.4,253.1 L930.3,251.8M933.2,251.2 L939.2,250.1 L946.1,249.2M949.1,248.8 L955.1,248.0 L962.0,246.9M964.9,246.5 L970.9,245.5 L977.8,243.3M980.8,242.4 L986.8,240.4 L993.7,239.0M996.6,238.4 L1002.6,237.2 L1009.5,236.6M1012.5,236.4 L1018.5,235.9 L1025.4,235.9M1028.3,235.9 L1034.3,235.9 L1041.2,235.9M1044.2,235.9 L1050.2,235.9 L1057.1,236.2M1060.0,236.4 L1066.0,236.6 L1072.9,236.3M1075.9,236.2 L1081.9,235.9 L1088.8,235.9M1091.8,235.9 L1097.7,235.9 L1104.7,235.9M1107.6,235.9 L1113.6,235.9 L1120.5,237.3M1123.5,237.9 L1129.4,239.2 L1136.4,236.6M1139.3,235.6 L1145.3,233.4 L1152.2,230.2M1155.2,228.8 L1161.2,226.0 L1168.1,226.0M1171.0,226.0 L1177.0,226.0 L1183.9,226.4M1186.9,226.6 L1192.9,227.0 L1199.8,227.6M1202.7,227.8 L1208.7,228.3 L1215.6,228.8M1218.6,229.0 L1224.6,229.4 L1231.5,229.0M1234.4,228.8 L1240.4,228.4 L1247.3,227.9M1250.3,227.7 L1256.3,227.3 L1263.2,227.8M1266.1,228.1 L1272.1,228.5 L1279.0,227.3M1282.0,226.8 L1288.0,225.8 L1294.9,225.5M1297.8,225.4 L1303.8,225.2 L1310.7,224.7M1313.7,224.5 L1319.7,224.0 L1326.6,224.2M1329.5,224.3 L1335.5,224.5 L1342.4,222.6M1345.4,221.8 L1351.4,220.2 L1358.3,219.6M1361.3,219.4 L1367.2,218.9 L1374.2,220.0M1377.1,220.5 L1383.1,221.4 L1390.0,221.4M1393.0,221.4 L1398.9,221.4 L1405.9,220.9M1408.8,220.7 L1414.8,220.2 L1421.7,219.1M1424.7,218.6 L1430.7,217.6 L1437.6,217.9M1440.5,218.0 L1446.5,218.2 L1453.4,218.5M1456.4,218.6 L1462.4,218.9 L1469.3,219.2M1472.2,219.4 L1478.2,219.7 L1485.1,220.1M1488.1,220.3 L1494.1,220.7 L1501.0,220.7M1503.9,220.7 L1509.9,220.7 L1516.8,220.1M1519.8,219.9 L1525.8,219.4 L1532.7,220.6M1535.6,221.2 L1541.6,222.2 L1548.5,222.8M1551.5,223.0 L1557.5,223.5 L1564.4,223.9M1567.3,224.1 L1573.3,224.5 L1580.2,226.5M1583.2,227.3 L1589.2,229.0 L1596.1,230.5M1599.0,231.1 L1605.0,232.3 L1611.9,231.7M1614.9,231.4 L1620.9,230.8 L1627.8,230.9M1630.8,231.0 L1636.7,231.1 L1643.7,232.1M1646.6,232.5 L1652.6,233.4 L1659.5,235.3M1662.5,236.2 L1668.4,237.9 L1675.4,241.8M1678.3,243.4 L1684.3,246.8 L1691.2,252.0M1694.2,254.3 L1700.2,258.8 L1707.1,258.1M1710.0,257.8 L1716.0,257.2 L1722.9,258.2M1725.9,258.6 L1731.9,259.4 L1738.8,262.2M1741.7,263.4 L1747.7,265.8 L1754.6,272.4M1757.6,275.2 L1763.6,281.0 L1770.5,282.6M1773.4,283.3 L1779.4,284.8 L1786.3,285.0M1789.3,285.1 L1795.3,285.3 L1802.2,287.8M1805.1,288.9 L1811.1,291.1 L1818.0,290.0M1821.0,289.5 L1827.0,288.6 L1833.9,288.6M1836.8,288.6 L1842.8,288.6 L1849.7,291.3M1852.7,292.5 L1858.7,294.9 L1865.6,302.1M1868.5,305.1 L1874.5,311.4 L1881.4,319.6M1884.4,323.2 L1890.4,330.4 L1897.3,340.3M1900.3,344.5 L1906.2,353.2 L1913.2,357.6M1916.1,359.5 L1922.1,363.3 L1929.0,364.6M1932.0,365.2 L1937.9,366.3 L1944.9,366.7M1947.8,366.8 L1953.8,367.1 L1960.7,367.4M1963.7,367.6 L1969.7,367.9 L1976.6,370.8M1979.5,372.1 L1985.5,374.7 L1992.4,377.7M1995.4,378.9 L2001.4,381.5 L2008.3,381.5M2011.2,381.5 L2017.2,381.5 L2024.1,381.5M2027.1,381.5 L2033.1,381.5 L2040.0,381.5M2042.9,381.5 L2048.9,381.5 L2055.8,381.5M2058.8,381.5 L2064.8,381.5 L2071.7,381.5M2074.6,381.5 L2080.6,381.5 L2087.5,381.5M2090.5,381.5 L2096.5,381.5 L2103.4,381.5M2106.3,381.5 L2112.3,381.5 L2119.2,381.5M2122.2,381.5 L2128.2,381.5 L2135.1,381.5M2138.0,381.5 L2144.0,381.5 L2150.9,381.5M2153.9,381.5 L2159.9,381.5 L2166.8,381.5M2169.8,381.5 L2175.7,381.5 L2182.7,381.5M2185.6,381.5 L2191.6,381.5 L2198.5,381.5M2201.5,381.5 L2207.4,381.5 L2208.0,381.5"/>
<polyline shape-rendering="crispEdges" fill="none" stroke="#0000ff" stroke-width="13.6" stroke-linejoin="round" points="304.2,736.4 320.3,736.9 334.9,740.5 350.3,742.1 368.5,747.0 390.8,752.1 404.8,754.3 418.8,758.7 446.7,764.1 470.0,768.9 484.0,771.9 504.9,780.8 525.9,789.0 546.9,795.8 567.8,798.2 588.8,800.9 609.8,802.1 630.7,804.5 650.0,807.0 661.0,809.2 681.9,812.4 700.8,815.9 716.9,822.1 737.8,830.9 758.8,841.7 772.8,845.2 780.7,847.2 796.5,848.7 812.4,850.7 828.2,853.4 844.1,856.1 859.9,858.8 875.8,861.1 891.7,862.7 907.5,864.4 923.4,866.8 939.2,868.5 955.1,871.6 970.9,872.8 986.8,874.9 1002.6,876.7 1018.5,878.2 1034.3,879.8 1050.2,881.7 1066.0,884.1 1081.9,885.0 1097.7,886.0 1113.6,887.0 1129.4,887.9 1145.3,889.1 1161.2,890.3 1177.0,892.2 1192.9,894.1 1208.7,896.1 1224.6,898.9 1240.4,900.7 1256.3,902.6 1272.1,904.3 1288.0,906.1 1303.8,907.8 1319.7,909.6 1335.5,911.3 1351.4,913.7 1367.2,915.2 1383.1,916.6 1398.9,917.9 1414.8,919.5 1430.7,921.2 1446.5,923.0 1462.4,924.0 1478.2,924.9 1494.1,926.1 1509.9,928.0 1525.8,929.8 1541.6,931.5 1557.5,933.1 1573.3,933.9 1589.2,934.6 1605.0,935.8 1620.9,936.4 1636.7,937.0 1652.6,937.7 1668.4,938.7 1684.3,939.7 1700.2,940.8 1716.0,941.1 1731.9,942.3 1747.7,942.9 1763.6,942.9 1779.4,942.3 1795.3,942.3 1811.1,943.9 1827.0,945.1 1842.8,946.1 1858.7,947.0 1874.5,947.6 1890.4,947.0 1906.2,946.1 1922.1,942.0 1937.9,940.7 1953.8,940.7 1969.7,936.0 1985.5,933.5 2001.4,922.5 2017.2,922.5 2033.1,920.9 2048.9,911.5 2064.8,900.5 2080.6,895.8 2096.5,891.1 2112.3,883.8 2128.2,880.1 2144.0,875.3 2159.9,867.5 2175.7,856.5 2191.6,854.9 2207.4,848.6"/>
<path shape-rendering="crispEdges" d="M355.45,714.7 L368.3,701.85 L381.15000000000003,714.7 L368.3,727.5500000000001 Z" fill="none" stroke="#000" stroke-width="6.6" stroke-linejoin="miter"/>
<path shape-rendering="crispEdges" d="M529.75,747.8 L542.6,734.9499999999999 L555.45,747.8 L542.6,760.65 Z" fill="none" stroke="#000" stroke-width="6.6" stroke-linejoin="miter"/>
<text transform="translate(304.3,87.6) scale(1,1.058)" x="0" y="0" font-size="56.8" font-family="Liberation Sans, Arial, Helvetica, sans-serif">Jää ja lumi,68 072 Kevojärvi</text><text transform="translate(209.3,126.5) scale(1,1.058)" x="0" y="0" font-size="56.3" text-anchor="middle" font-family="Liberation Sans, Arial, Helvetica, sans-serif">40</text><text transform="translate(209.3,259.7) scale(1,1.058)" x="0" y="0" font-size="56.3" text-anchor="middle" font-family="Liberation Sans, Arial, Helvetica, sans-serif">20</text><text transform="translate(209.3,392.9) scale(1,1.058)" x="0" y="0" font-size="56.3" text-anchor="middle" font-family="Liberation Sans, Arial, Helvetica, sans-serif">0</text><text transform="translate(202.9,526.1) scale(1,1.058)" x="0" y="0" font-size="56.3" text-anchor="middle" font-family="Liberation Sans, Arial, Helvetica, sans-serif">-20</text><text transform="translate(202.9,659.3) scale(1,1.058)" x="0" y="0" font-size="56.3" text-anchor="middle" font-family="Liberation Sans, Arial, Helvetica, sans-serif">-40</text><text transform="translate(202.9,792.5) scale(1,1.058)" x="0" y="0" font-size="56.3" text-anchor="middle" font-family="Liberation Sans, Arial, Helvetica, sans-serif">-60</text><text transform="translate(202.9,925.7) scale(1,1.058)" x="0" y="0" font-size="56.3" text-anchor="middle" font-family="Liberation Sans, Arial, Helvetica, sans-serif">-80</text><text transform="translate(202.9,1058.9) scale(1,1.058)" x="0" y="0" font-size="56.3" text-anchor="middle" font-family="Liberation Sans, Arial, Helvetica, sans-serif">-100</text><text transform="translate(100,980.5) rotate(-90) scale(1,1.034)" x="0" y="0" font-size="49.6" font-family="Liberation Sans, Arial, Helvetica, sans-serif" xml:space="preserve">Jää ja lumi / Ice and snow    cm</text><text x="572.4" y="1120.7" font-size="42.4" font-family="Liberation Sans, Arial, Helvetica, sans-serif">Helmikuu</text><text x="572.8" y="1165" font-size="42.4" font-family="Liberation Sans, Arial, Helvetica, sans-serif">2026</text><text x="1017.4" y="1120.9" font-size="42.4" font-family="Liberation Sans, Arial, Helvetica, sans-serif">Maaliskuu</text><text x="1017.4" y="1164.7" font-size="42.4" font-family="Liberation Sans, Arial, Helvetica, sans-serif">March</text><text x="1508" y="1120.7" font-size="42.4" font-family="Liberation Sans, Arial, Helvetica, sans-serif">Huhtikuu</text><text x="1510" y="1165" font-size="42.4" font-family="Liberation Sans, Arial, Helvetica, sans-serif">April</text><text x="2222" y="83.8" font-size="35.5" font-family="Liberation Sans, Arial, Helvetica, sans-serif">Lumen syvyys jäällä</text><text x="2222" y="126.9" font-size="35.5" font-family="Liberation Sans, Arial, Helvetica, sans-serif">Simuloitu ja keskiennuste</text><text x="2222" y="200.9" font-size="35.5" font-family="Liberation Sans, Arial, Helvetica, sans-serif">Jään paksuus</text><text x="2222" y="242.4" font-size="35.5" font-family="Liberation Sans, Arial, Helvetica, sans-serif">Simuloitu ja keskiennuste</text><text x="2261.8" y="317.8" font-size="35.5" font-family="Liberation Sans, Arial, Helvetica, sans-serif">Jäähavainto</text><text x="2222" y="360.4" font-size="35.5" font-family="Liberation Sans, Arial, Helvetica, sans-serif">68001 Kevojärvi, Kevoniem</text><text x="2222" y="402.3" font-size="35.5" font-family="Liberation Sans, Arial, Helvetica, sans-serif">i</text><text x="2222" y="461.5" font-size="35.5" font-family="Liberation Sans, Arial, Helvetica, sans-serif">Ennusteen vaihteluväli</text><text x="2222" y="534.5" font-size="35.5" font-family="Liberation Sans, Arial, Helvetica, sans-serif">5-95% vaihteluväli</text><text x="2222" y="609.1" font-size="35.5" font-family="Liberation Sans, Arial, Helvetica, sans-serif">25-75% vaihteluväli</text><text x="2222" y="683.1" font-size="35.5" font-family="Liberation Sans, Arial, Helvetica, sans-serif">Kohvajää</text><text x="2222" y="756.8" font-size="35.5" font-family="Liberation Sans, Arial, Helvetica, sans-serif">Ennusteen alku</text><text transform="translate(2241,317.7) scale(1,0.66)" x="0" y="0" font-size="35.5" font-family="Liberation Sans, Arial, Helvetica, sans-serif">=</text><text x="2224.2" y="1140.2" font-size="35.5" font-family="Liberation Sans, Arial, Helvetica, sans-serif">15-Feb-2026 20:11 WSFS-P</text>
<g shape-rendering="crispEdges"><line x1="2223" y1="144.2" x2="2541" y2="144.2" stroke="#0000ff" stroke-width="9.8" stroke-dasharray="8 2.9 14.8 2.9 14.8 2.9 14.8 2.9 14.8 2.9 14.8 2.9 14.8 2.9 14.8 2.9 14.8 2.9 14.8 2.9 14.8 2.9 14.8 2.9 14.8 2.9 14.8 2.9 14.8 2.9 14.8 2.9 14.8 2.9 14.8 2.9 14.8"/><line x1="2223" y1="260.5" x2="2541" y2="260.5" stroke="#0000ff" stroke-width="12.6"/><path shape-rendering="crispEdges" d="M2210.9500000000003,306.3 L2223.8,293.45 L2236.65,306.3 L2223.8,319.15000000000003 Z" fill="none" stroke="#000" stroke-width="6.6" stroke-linejoin="miter"/><line x1="2223" y1="478.4" x2="2541" y2="478.4" stroke="#ffff00" stroke-width="12.6"/><line x1="2223" y1="551.9" x2="2541" y2="551.9" stroke="#ff0000" stroke-width="13.6"/><line x1="2223" y1="625.7" x2="2541" y2="625.7" stroke="#00ff00" stroke-width="13.3"/><line x1="2223" y1="699.5" x2="2541" y2="699.5" stroke="#ff00ff" stroke-width="5"/><line x1="2223" y1="773.7" x2="2541" y2="773.7" stroke="#00ffff" stroke-width="10.6" stroke-dasharray="15.6 12.8"/></g>
</svg></body></html>
